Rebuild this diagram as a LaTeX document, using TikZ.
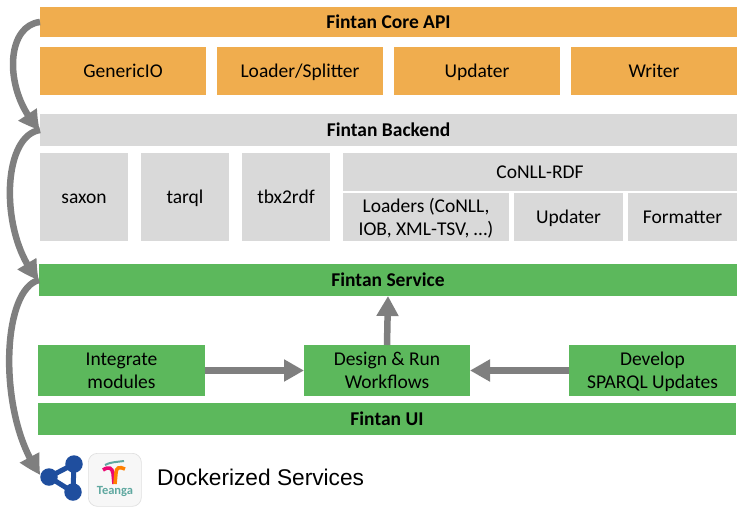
\documentclass[tikz,border=0pt]{standalone}
\usepackage{fontspec}
\setmainfont{Carlito}
\newfontfamily\arialfont{Liberation Sans}
\usetikzlibrary{arrows.meta,bending}
\definecolor{orangebox}{HTML}{F0AD4E}
\definecolor{greybox}{HTML}{D9D9D9}
\definecolor{greenbox}{HTML}{5CB85C}
\definecolor{arrowgrey}{HTML}{7F7F7F}
\definecolor{moleculeblue}{HTML}{1F4E9E}
\definecolor{teangateal}{HTML}{5FA8A0}
\newcommand\st{\vrule width 0pt height 17.8pt depth 4.2pt\relax}
\tikzset{
  box/.style={anchor=north west,inner sep=0pt,outer sep=0pt,align=center,text=black,font=\fontsize{19.5}{23}\selectfont},
  orange/.style={box,fill=orangebox},
  grey/.style={box,fill=greybox},
  green/.style={box,fill=greenbox},
  title/.style={font=\fontsize{19.5}{23}\selectfont\bfseries},
  straightarrow/.style={draw=arrowgrey,line width=6.5pt,-{Triangle[length=20pt,width=21pt]}},
  bendarrow/.style={draw=arrowgrey,line width=6.5pt,-{Triangle[length=20pt,width=21pt,bend]}},
  atom/.style={circle,fill=moleculeblue,inner sep=0pt,minimum size=17.5pt},
  bond/.style={draw=moleculeblue,line width=5pt}
}
\begin{document}
\begin{tikzpicture}[x=1pt,y=-1pt]
\useasboundingbox (0,0) rectangle (742,512);
% orange layer
\node[orange,title,minimum width=697pt,minimum height=30pt] (core) at (40,7) {\st Fintan Core API};
\node[orange,minimum width=166pt,minimum height=48pt] (generic) at (40,47) {\st GenericIO};
\node[orange,minimum width=166pt,minimum height=48pt] (loader) at (217,47) {\st Loader/Splitter};
\node[orange,minimum width=166pt,minimum height=48pt] (updatera) at (394,47) {\st Updater};
\node[orange,minimum width=166pt,minimum height=48pt] (writer) at (571,47) {\st Writer};
% grey layer
\node[grey,title,minimum width=697pt,minimum height=32pt] (backend) at (40,114) {\st Fintan Backend};
\node[grey,minimum width=88pt,minimum height=88pt] (saxon) at (40,153) {\st saxon};
\node[grey,minimum width=88pt,minimum height=88pt] (tarql) at (141,153) {\st tarql};
\node[grey,minimum width=88pt,minimum height=88pt] (tbx) at (242,153) {\st tbx2rdf};
\node[grey,minimum width=394pt,minimum height=38pt] (conll) at (343,153) {\st CoNLL-RDF};
\node[grey,minimum width=166pt,minimum height=48pt] (loaders) at (343,193) {\st Loaders (CoNLL,\\IOB, XML-TSV, …)\st};
\node[grey,minimum width=109pt,minimum height=48pt] (updaterb) at (514,193) {\st Updater};
\node[grey,minimum width=109pt,minimum height=48pt] (formatter) at (628,193) {\st Formatter};
% green layer
\node[green,title,minimum width=698pt,minimum height=32pt] (service) at (39,264) {\st Fintan Service};
\node[green,minimum width=167pt,minimum height=51pt] (integrate) at (38,345) {\st Integrate\\modules\st};
\node[green,minimum width=166pt,minimum height=51pt] (design) at (304,345) {\st Design \& Run\\Workflows\st};
\node[green,minimum width=167pt,minimum height=51pt] (develop) at (569,345) {\st Develop\\SPARQL Updates\st};
\node[green,title,minimum width=698pt,minimum height=32pt] (ui) at (38,403) {\st Fintan UI};
% straight arrows
\draw[straightarrow] (design.north) -- (service.south);
\draw[straightarrow] (integrate.east) -- (design.west);
\draw[straightarrow] (develop.west) -- (design.east);
% molecule icon
\node[atom] (m1) at (49,477) {};
\node[atom] (m2) at (74,464) {};
\node[atom] (m3) at (73,492) {};
\draw[bond] (m1.center) -- (m2.center) -- (m3.center) -- cycle;
% bent arrows
\draw[bendarrow] (core.west) .. controls (4,26) and (4,95) .. (backend.west);
\draw[bendarrow] (backend.west) .. controls (0,136) and (0,240) .. (service.west);
\draw[bendarrow] (service.west) .. controls (0,290) and (-2,420) .. (m1.165);
% Teanga icon
\node[anchor=north west,draw=black!12,line width=.7pt,fill=black!3,rounded corners=9pt,minimum width=53pt,minimum height=53pt,inner sep=0pt] (teanga) at (88,453) {};
\draw[line width=2pt,color=teangateal] (105,465) .. controls (110,462) and (117,462) .. (124,461);
\draw[line width=3.6pt,color=magenta!75!red] (103,470) .. controls (109,466) and (112,468) .. (113,473) -- (114,484);
\draw[line width=3.6pt,color=orange] (125,469) .. controls (119,466) and (116,468) .. (116,473) -- (115,484);
\node[anchor=center,inner sep=0pt,text=teangateal,font=\fontsize{12.5}{13}\selectfont\bfseries] (teangatext) at (115,491) {Teanga};
% caption
\node[anchor=west,inner sep=0pt,font=\arialfont\fontsize{22.7}{26}\selectfont] (docker) at (157,477) {Dockerized Services};
\end{tikzpicture}
\end{document}
